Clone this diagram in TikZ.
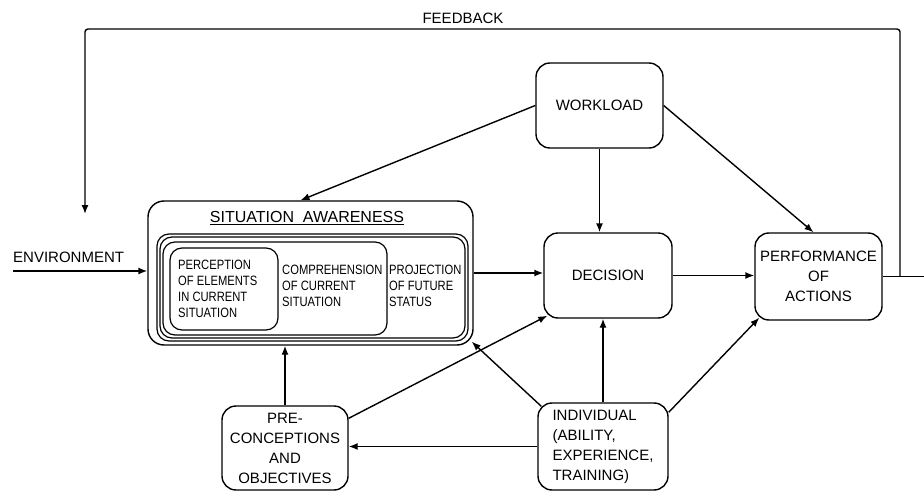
\documentclass[tikz,border=0pt]{standalone}
\usepackage{fontspec}
\setmainfont{Liberation Sans}
\newfontfamily\narrowf[FakeStretch=0.83]{Liberation Sans}
\usetikzlibrary{arrows.meta,calc}
\begin{document}
\begin{tikzpicture}[x=1pt,y=-1pt,
  box/.style={draw,rounded corners=14pt,line width=1.4pt,inner sep=0pt,align=center,font=\fontsize{15}{20}\selectfont},
  ibox/.style={draw,rounded corners=12pt,line width=1.2pt,inner sep=0pt},
  lbl/.style={font=\fontsize{15}{20}\selectfont,align=center,inner sep=0pt},
  small/.style={font=\narrowf\fontsize{13.5}{16}\selectfont,align=left,inner sep=0pt,anchor=west},
  arr/.style={line width=1.4pt,-{Latex[length=9pt,width=7pt]}},
  ln/.style={line width=1.4pt}]
\useasboundingbox (0,0) rectangle (924,492);

% main boxes
\node[box,minimum width=127pt,minimum height=85pt] (workload) at (599.5,105.5) {WORKLOAD};
\node[box,minimum width=128pt,minimum height=85pt] (decision) at (608,275.5) {DECISION};
\node[box,minimum width=127pt,minimum height=87pt] (perf) at (818.5,276.5) {PERFORMANCE\\OF\\ACTIONS};
\node[box,minimum width=126pt,minimum height=84pt] (pre) at (285,448) {PRE-\\CONCEPTIONS\\AND\\OBJECTIVES};
\node[box,minimum width=130pt,minimum height=87pt,align=left] (ind) at (603,446.5) {INDIVIDUAL\\(ABILITY,\\EXPERIENCE,\\TRAINING)};

% situation awareness
\node[box,minimum width=325pt,minimum height=144pt,rounded corners=16pt] (sa) at (310.5,273) {};
\node[lbl,font=\fontsize{16}{20}\selectfont] (satitle) at (307,218) {\underline{SITUATION\ \ AWARENESS}};
\node[ibox,minimum width=311pt,minimum height=107pt] (proj) at (312.5,287.5) {};
\node[ibox,minimum width=305pt,minimum height=101pt] (proj2) at (312.5,287.5) {};
\node[ibox,minimum width=224pt,minimum height=93pt] (comp) at (275,288.5) {};
\node[ibox,minimum width=108pt,minimum height=82pt] (perc) at (224,289) {};
\node[small] (perct) at (178,289) {PERCEPTION\\OF ELEMENTS\\IN CURRENT\\SITUATION};
\node[small] (compt) at (282,286) {COMPREHENSION\\OF CURRENT\\SITUATION};
\node[small] (projt) at (389,286) {PROJECTION\\OF FUTURE\\STATUS};

% environment
\coordinate (env) at (13,271);
\node[lbl,anchor=south west] (envt) at (13,263) {ENVIRONMENT};
\draw[arr] (env) -- (env -| sa.west);

% feedback
\coordinate (fbout) at (924,278);
\coordinate (fbj) at (900,278);
\coordinate (fbtr) at (900,29);
\coordinate (fbtl) at (85,29);
\coordinate (fbend) at (85,214);
\node[lbl] (fbt) at (463,18.5) {FEEDBACK};
\draw[ln] (perf.east) -- (perf.east -| fbout);
\draw[arr,rounded corners=3pt] (perf.east -| fbj) -- (fbtr) -- (fbtl) -- (fbend);

% connectors
\draw[arr] (workload.west) -- ([xshift=-10pt]sa.north);
\draw[arr] (workload.south) -- (workload.south |- decision.north);
\draw[arr] (workload.east) -- ([xshift=-5pt]perf.north);
\draw[arr] (sa.east) -- (sa.east -| decision.west);
\draw[arr] (decision.east) -- (decision.east -| perf.west);
\draw[arr] (ind.west) -- (ind.west -| pre.east);
\draw[arr] (pre.north) -- (pre.north |- sa.south);
\draw[arr] (pre.25) -- ($(decision.south west)+(4,-3)$);
\draw[arr] ($(ind.north west)+(4,4)$) -- ($(sa.south east)+(-2,-4)$);
\draw[arr] (ind.north) -- (ind.north |- decision.south);
\draw[arr] ($(ind.north east)+(0,10)$) -- ($(perf.south west)+(5,-3)$);
\end{tikzpicture}
\end{document}
